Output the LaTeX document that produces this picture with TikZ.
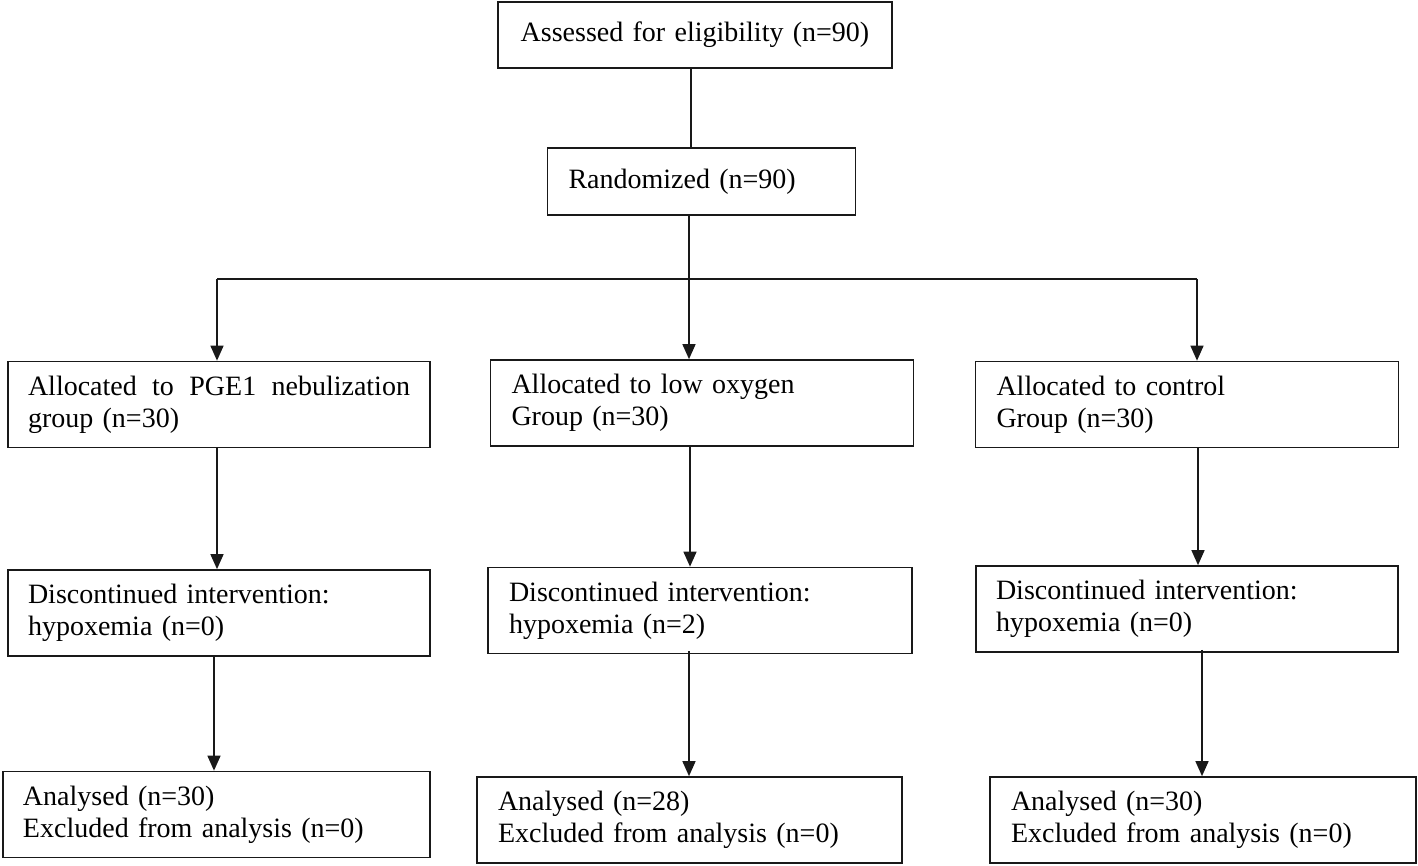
\documentclass[tikz,border=0pt]{standalone}
\usepackage{fontspec}
\setmainfont{Liberation Serif}
\usetikzlibrary{arrows.meta}
\begin{document}
\begin{tikzpicture}[x=1pt,y=-1pt,
  box/.style={draw=black!90, line width=1.7pt, rectangle, inner xsep=20pt, inner ysep=0pt,
    font=\fontsize{28}{32}\selectfont, align=left, minimum height=86pt},
  conn/.style={draw=black!90, line width=1.5pt},
  arr/.style={conn, -{Triangle[length=15pt,width=13pt]}}]
\useasboundingbox (0,0) rectangle (1418,866);

% top
\node[box, align=center, minimum width=394pt, minimum height=66pt, text width=354pt] (b1) at (695,35) {Assessed for eligibility (n=90)};
\node[box, minimum width=307pt, minimum height=67pt, text width=266pt, inner xsep=21pt] (b2) at (701.5,181.5) {Randomized (n=90)};

% row 1
\node[box, minimum width=422pt, text width=382pt] (L1) at (219,404.5)
  {\hbox to 382pt{Allocated\hfill to\hfill PGE1\hfill nebulization}\\group (n=30)};
\node[box, minimum width=422pt, text width=381pt, inner xsep=21pt] (M1) at (702,403) {Allocated to low oxygen\\Group (n=30)};
\node[box, minimum width=422pt, text width=381pt, inner xsep=21pt] (R1) at (1187,404.5) {Allocated to control\\Group (n=30)};

% row 2
\node[box, minimum width=422pt, text width=382pt] (L2) at (219,613) {Discontinued intervention:\\hypoxemia (n=0)};
\node[box, minimum width=424pt, text width=382pt, inner xsep=21pt] (M2) at (700,610.5) {Discontinued intervention:\\hypoxemia (n=2)};
\node[box, minimum width=422pt, text width=382pt] (R2) at (1187,609) {Discontinued intervention:\\hypoxemia (n=0)};

% row 3
\node[box, minimum width=427pt, text width=387pt] (L3) at (216.5,814.5) {Analysed (n=30)\\Excluded from analysis (n=0)};
\node[box, minimum width=425pt, text width=383pt, inner xsep=21pt] (M3) at (689.5,820) {Analysed (n=28)\\Excluded from analysis (n=0)};
\node[box, minimum width=426pt, text width=384pt, inner xsep=21pt] (R3) at (1203,820) {Analysed (n=30)\\Excluded from analysis (n=0)};

% connector coordinates
\coordinate (t1) at (691,0);
\coordinate (split) at (689,279);
\coordinate (sl) at (217,279);
\coordinate (sr) at (1197,279);
\coordinate (xl2) at (214,0);
\coordinate (xm1) at (690,0);
\coordinate (xr1) at (1198,0);
\coordinate (xr2) at (1202,0);

\draw[conn, line width=2.2pt] (b1.south -| t1) -- (b2.north -| t1);
\draw[conn] (b2.south -| split) -- (split);
\draw[conn] (sl) -- (sr);
\draw[arr] (sl) -- (L1.north -| sl);
\draw[arr] (split) -- (M1.north -| split);
\draw[arr] (sr) -- (R1.north -| sr);

\draw[arr] (L1.south -| sl) -- (L2.north -| sl);
\draw[arr] (M1.south -| xm1) -- (M2.north -| xm1);
\draw[arr] (R1.south -| xr1) -- (R2.north -| xr1);

\draw[arr] (L2.south -| xl2) -- (L3.north -| xl2);
\draw[arr] ([yshift=3pt]M2.south -| split) -- (M3.north -| split);
\draw[arr] ([yshift=3pt]R2.south -| xr2) -- (R3.north -| xr2);
\end{tikzpicture}
\end{document}
